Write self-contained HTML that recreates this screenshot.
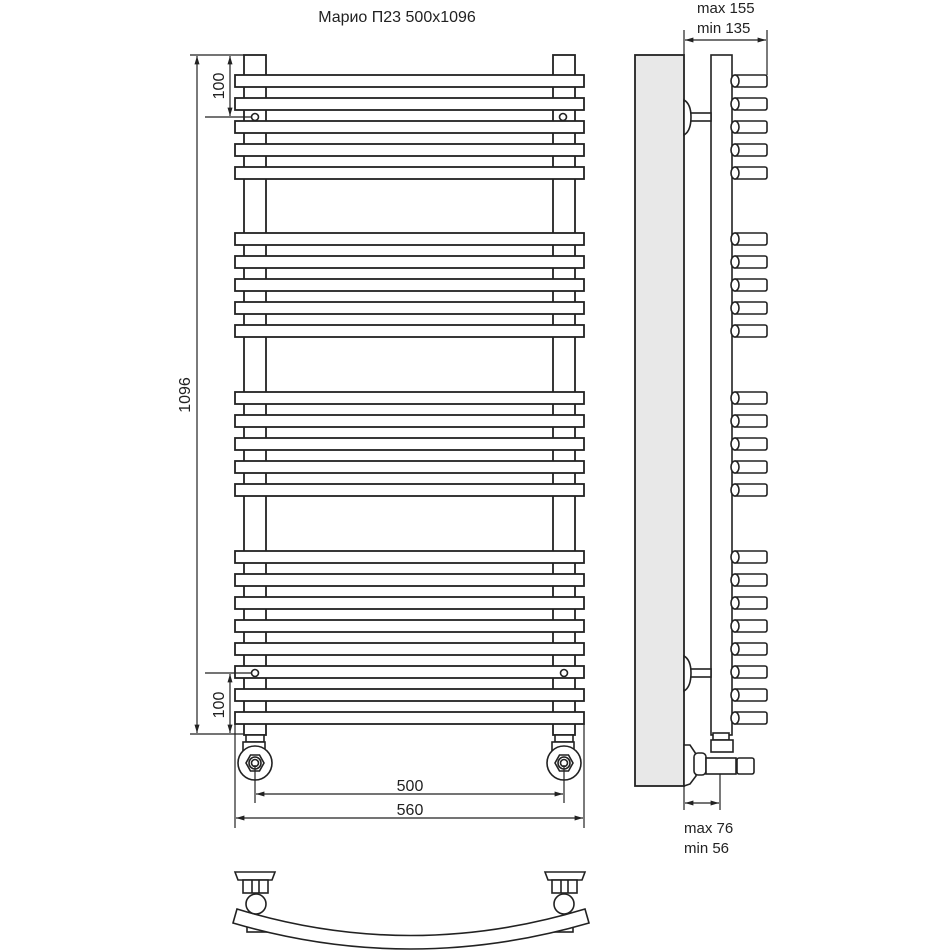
<!DOCTYPE html>
<html><head><meta charset="utf-8"><style>
html,body{margin:0;padding:0;background:#fff;}
svg{display:block;}
text{font-family:"Liberation Sans","DejaVu Sans",sans-serif;fill:#222;}
</style></head><body>
<svg width="950" height="950" viewBox="0 0 950 950" xmlns="http://www.w3.org/2000/svg">
<defs>
<marker id="a" viewBox="0 0 10 10" refX="10" refY="5" markerWidth="7" markerHeight="7" orient="auto-start-reverse"><path d="M0,2 L10,5 L0,8 z" fill="#222"/></marker>
<g id="bar"><rect x="235" y="0" width="349" height="12" fill="#fff" stroke="#222" stroke-width="1.8"/></g>
<g id="pin"><rect x="733" y="0" width="34" height="12" rx="2" fill="#fff" stroke="#222" stroke-width="1.6"/><ellipse cx="735" cy="6" rx="4" ry="6" fill="#fff" stroke="#222" stroke-width="1.6"/></g>
</defs>
<text x="397" y="22" font-size="16" text-anchor="middle">Марио П23 500х1096</text>

<!-- posts -->
<g fill="#fff" stroke="#222" stroke-width="1.8">
<rect x="244" y="55" width="22" height="680"/>
<rect x="553" y="55" width="22" height="680"/>
</g>
<!-- bars -->
<g>
<use href="#bar" y="75"/><use href="#bar" y="98"/><use href="#bar" y="121"/><use href="#bar" y="144"/><use href="#bar" y="167"/>
<use href="#bar" y="233"/><use href="#bar" y="256"/><use href="#bar" y="279"/><use href="#bar" y="302"/><use href="#bar" y="325"/>
<use href="#bar" y="392"/><use href="#bar" y="415"/><use href="#bar" y="438"/><use href="#bar" y="461"/><use href="#bar" y="484"/>
<use href="#bar" y="551"/><use href="#bar" y="574"/><use href="#bar" y="597"/><use href="#bar" y="620"/><use href="#bar" y="643"/><use href="#bar" y="666"/><use href="#bar" y="689"/><use href="#bar" y="712"/>
</g>
<!-- holes -->
<g fill="#fff" stroke="#222" stroke-width="1.6">
<circle cx="255" cy="117" r="3.5"/><circle cx="563" cy="117" r="3.5"/>
<circle cx="255" cy="673" r="3.5"/><circle cx="564" cy="673" r="3.5"/>
</g>
<!-- bottom fittings front -->
<g fill="#fff" stroke="#222" stroke-width="1.6">
<rect x="246" y="735" width="18" height="7"/><rect x="243" y="742" width="22" height="10"/>
<circle cx="255" cy="763" r="17"/><polygon points="264,763 259.5,771 250.5,771 246,763 250.5,755 259.5,755"/><circle cx="255" cy="763" r="6"/><circle cx="255" cy="763" r="3.5"/>
<rect x="555" y="735" width="18" height="7"/><rect x="552" y="742" width="22" height="10"/>
<circle cx="564" cy="763" r="17"/><polygon points="573,763 568.5,771 559.5,771 555,763 559.5,755 568.5,755"/><circle cx="564" cy="763" r="6"/><circle cx="564" cy="763" r="3.5"/>
</g>
<!-- dimensions left -->
<g stroke="#222" stroke-width="1.2" fill="none">
<line x1="190" y1="55" x2="244" y2="55"/>
<line x1="190" y1="734" x2="244" y2="734"/>
<line x1="197" y1="56" x2="197" y2="733" marker-start="url(#a)" marker-end="url(#a)"/>
<line x1="205" y1="117" x2="252" y2="117"/>
<line x1="230" y1="56" x2="230" y2="116" marker-start="url(#a)" marker-end="url(#a)"/>
<line x1="205" y1="673" x2="252" y2="673"/>
<line x1="230" y1="674" x2="230" y2="733" marker-start="url(#a)" marker-end="url(#a)"/>
<!-- horizontal -->
<line x1="255" y1="765" x2="255" y2="803"/>
<line x1="564" y1="765" x2="564" y2="803"/>
<line x1="256" y1="794" x2="563" y2="794" marker-start="url(#a)" marker-end="url(#a)"/>
<line x1="235" y1="724" x2="235" y2="828"/>
<line x1="584" y1="724" x2="584" y2="828"/>
<line x1="236" y1="818" x2="583" y2="818" marker-start="url(#a)" marker-end="url(#a)"/>
</g>
<text x="0" y="0" font-size="16" text-anchor="middle" transform="translate(190,395) rotate(-90)">1096</text>
<text x="0" y="0" font-size="16" text-anchor="middle" transform="translate(224,86) rotate(-90)">100</text>
<text x="0" y="0" font-size="16" text-anchor="middle" transform="translate(224,705) rotate(-90)">100</text>
<text x="410" y="791" font-size="16" text-anchor="middle">500</text>
<text x="410" y="815" font-size="16" text-anchor="middle">560</text>

<!-- side view -->
<rect x="635" y="55" width="49" height="731" fill="#e8e8e8" stroke="#222" stroke-width="1.8"/>
<g fill="#fff" stroke="#222" stroke-width="1.6">
<rect x="711" y="55" width="21" height="680"/>
<rect x="690" y="113" width="21" height="8"/>
<path d="M684,100 Q691,104 691,117 Q691,131 684,135 Z"/>
<rect x="690" y="669" width="21" height="8"/>
<path d="M684,656 Q691,660 691,673 Q691,687 684,691 Z"/>
<rect x="713" y="733" width="16" height="7"/>
<rect x="711" y="740" width="22" height="12"/>
<path d="M684,745 L690,745 L696,754 L696,776 L690,784 L684,786 Z"/>
<rect x="694" y="753" width="12" height="22" rx="4"/>
<rect x="706" y="758" width="30" height="16"/>
<rect x="737" y="758" width="17" height="16" rx="2"/>
</g>
<g>
<use href="#pin" y="75"/><use href="#pin" y="98"/><use href="#pin" y="121"/><use href="#pin" y="144"/><use href="#pin" y="167"/>
<use href="#pin" y="233"/><use href="#pin" y="256"/><use href="#pin" y="279"/><use href="#pin" y="302"/><use href="#pin" y="325"/>
<use href="#pin" y="392"/><use href="#pin" y="415"/><use href="#pin" y="438"/><use href="#pin" y="461"/><use href="#pin" y="484"/>
<use href="#pin" y="551"/><use href="#pin" y="574"/><use href="#pin" y="597"/><use href="#pin" y="620"/><use href="#pin" y="643"/><use href="#pin" y="666"/><use href="#pin" y="689"/><use href="#pin" y="712"/>
</g>
<g stroke="#222" stroke-width="1.2" fill="none">
<line x1="684" y1="30" x2="684" y2="55"/>
<line x1="767" y1="30" x2="767" y2="75"/>
<line x1="685" y1="40" x2="766" y2="40" marker-start="url(#a)" marker-end="url(#a)"/>
<line x1="684" y1="786" x2="684" y2="810"/>
<line x1="720" y1="774" x2="720" y2="810"/>
<line x1="685" y1="803" x2="719" y2="803" marker-start="url(#a)" marker-end="url(#a)"/>
</g>
<text x="697" y="13" font-size="15">max 155</text>
<text x="697" y="33" font-size="15">min 135</text>
<text x="684" y="833" font-size="15">max 76</text>
<text x="684" y="853" font-size="15">min 56</text>

<!-- top view -->
<g fill="#fff" stroke="#222" stroke-width="1.6">
<rect x="247" y="920" width="21" height="12"/>
<rect x="552" y="920" width="21" height="12"/>
<path d="M237,909 Q410,962 585,909 L589,923 Q410,975 233,923 Z"/>
<path d="M235,872 L275,872 L272,880 L238,880 Z"/>
<rect x="243" y="880" width="25" height="13"/><line x1="252" y1="880" x2="252" y2="893"/><line x1="259" y1="880" x2="259" y2="893"/>
<circle cx="256" cy="904" r="10"/>
<path d="M545,872 L585,872 L582,880 L548,880 Z"/>
<rect x="552" y="880" width="25" height="13"/><line x1="561" y1="880" x2="561" y2="893"/><line x1="568" y1="880" x2="568" y2="893"/>
<circle cx="564" cy="904" r="10"/>
</g>
</svg>
</body></html>
